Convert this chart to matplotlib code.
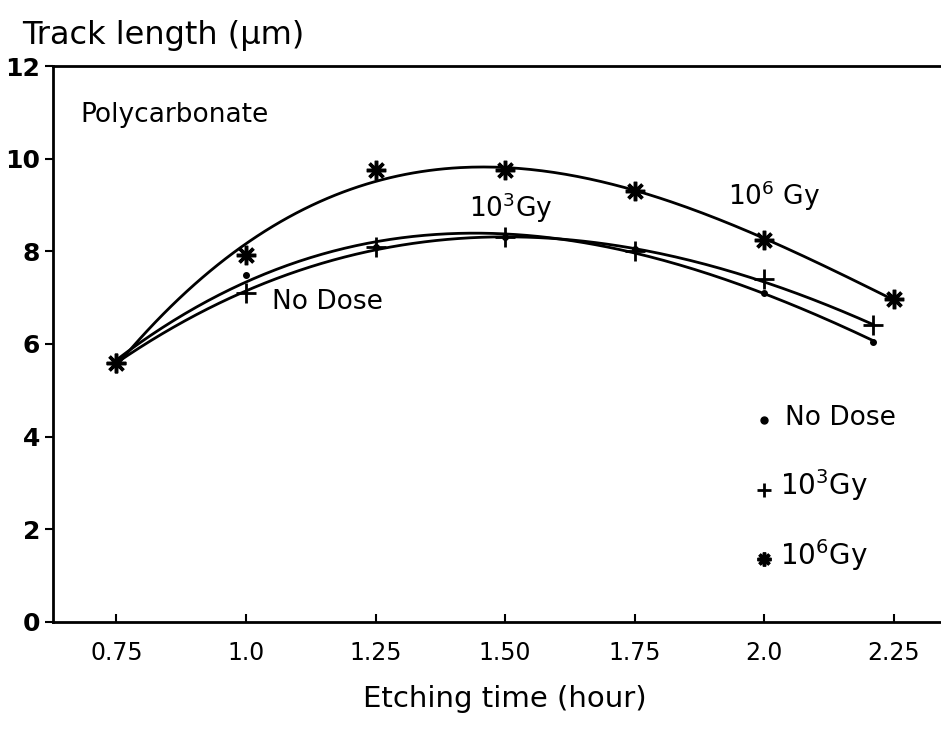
import numpy as np
import matplotlib
matplotlib.use('Agg')
import matplotlib.pyplot as plt

plt.rcParams['font.family'] = ['DejaVu Sans']
plt.rcParams['mathtext.default'] = 'regular'

# etching time (hour) and track length (um)
x_nodose = [0.75, 1.0, 1.25, 1.50, 1.75, 2.0, 2.21]
y_nodose = [5.6, 7.5, 8.1, 8.3, 8.05, 7.1, 6.05]

x_1e3 = [0.75, 1.0, 1.25, 1.50, 1.75, 2.0, 2.21]
y_1e3 = [5.6, 7.1, 8.1, 8.3, 8.0, 7.4, 6.4]

x_1e6 = [0.75, 1.0, 1.25, 1.50, 1.75, 2.0, 2.25]
y_1e6 = [5.6, 7.93, 9.75, 9.76, 9.3, 8.25, 6.97]

xticks = [0.75, 1.0, 1.25, 1.50, 1.75, 2.0, 2.25]
xtick_labels = ['0.75', '1.0', '1.25', '1.50', '1.75', '2.0', '2.25']
yticks = [0, 2, 4, 6, 8, 10, 12]

fig = plt.figure(figsize=(9.41, 7.35), dpi=100)
ax = fig.add_axes([0.056, 0.154, 0.96, 0.756])

star = (8, 2, 0)

# smooth trend curves through each series
for xs, ys in [(x_nodose, y_nodose), (x_1e3, y_1e3), (x_1e6, y_1e6)]:
    coef = np.polyfit(xs, ys, 3)
    xx = np.linspace(xs[0], xs[-1], 200)
    ax.plot(xx, np.polyval(coef, xx), color='black', lw=2)

ax.plot(x_nodose, y_nodose, 'o', color='black', ms=4)
ax.plot(x_1e3, y_1e3, '+', color='black', ms=14, mew=2)
ax.plot(x_1e6, y_1e6, marker=star, ls='none', color='black', ms=14, mew=2.5)

ax.set_xlim(0.627, 2.37)
ax.set_ylim(0, 12)
ax.set_xticks(xticks)
ax.set_xticklabels(xtick_labels)
ax.set_yticks(yticks)
ax.tick_params(axis='x', direction='in', length=6, width=1.5, labelsize=17, pad=14)
ax.tick_params(axis='y', direction='out', length=6, width=1.5, labelsize=18, pad=3)
for lbl in ax.get_yticklabels():
    lbl.set_fontweight('bold')
for s in ax.spines.values():
    s.set_linewidth(2)
ax.spines['right'].set_visible(False)

ax.set_xlabel('Etching time (hour)', fontsize=21, labelpad=14)
fig.text(0.023, 0.952, 'Track length (\u03bcm)', fontsize=23, va='center')

ax.text(0.68, 10.95, 'Polycarbonate', fontsize=19, va='center')
ax.text(1.05, 6.9, 'No Dose', fontsize=19, va='center')
ax.text(1.43, 8.95, '10$^3$Gy', fontsize=19, va='center')
ax.text(1.93, 9.2, '10$^6$ Gy', fontsize=19, va='center')

# legend
ax.plot([2.0], [4.35], 'o', color='black', ms=5)
ax.text(2.04, 4.4, 'No Dose', fontsize=19, va='center')
ax.plot([2.0], [2.85], '+', color='black', ms=10, mew=2)
ax.text(2.03, 2.95, '10$^3$Gy', fontsize=20, va='center')
ax.plot([2.0], [1.35], marker=star, ls='none', color='black', ms=10, mew=2.5)
ax.text(2.03, 1.45, '10$^6$Gy', fontsize=20, va='center')

fig.savefig('out.png', dpi=100)
